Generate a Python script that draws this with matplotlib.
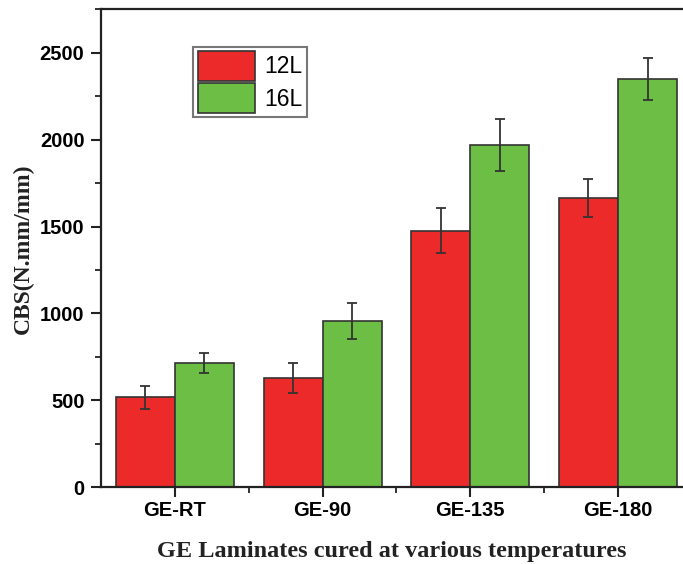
import matplotlib.pyplot as plt
import numpy as np
from matplotlib.ticker import MultipleLocator, FixedLocator

# CBS values (N.mm/mm) with standard deviation for each laminate
groups = ["GE-RT", "GE-90", "GE-135", "GE-180"]
cbs_12l = [517, 630, 1475, 1664]
err_12l = [65, 87, 129, 107]
cbs_16l = [716, 956, 1967, 2348]
err_16l = [57, 105, 150, 120]

red = "#ED2A2A"
green = "#6CBE45"
edge = "#333333"

fig = plt.figure(figsize=(6.83, 5.64), dpi=100)
ax = fig.add_axes([0.148, 0.136, 0.852, 0.8475])

x = np.arange(len(groups))
w = 0.4
err_kw = dict(ecolor=edge, elinewidth=1.3, capsize=3.5, capthick=1.3)
ax.bar(x - w / 2, cbs_12l, w, yerr=err_12l, color=red, edgecolor=edge,
       linewidth=1.2, label="12L", error_kw=err_kw)
ax.bar(x + w / 2, cbs_16l, w, yerr=err_16l, color=green, edgecolor=edge,
       linewidth=1.2, label="16L", error_kw=err_kw)

ax.set_xlim(-0.5, 3.44)
ax.set_ylim(0, 2750)

ax.set_xticks(x)
ax.set_xticklabels(groups)
ax.xaxis.set_minor_locator(FixedLocator(x[:-1] + 0.5))
ax.yaxis.set_major_locator(MultipleLocator(500))
ax.yaxis.set_minor_locator(MultipleLocator(250))

for lab in ax.get_xticklabels() + ax.get_yticklabels():
    lab.set_fontfamily("Liberation Sans")
    lab.set_fontweight("bold")
    lab.set_fontsize(14.5)

ax.tick_params(which="major", direction="out", length=7, width=1.5, color="#222222", pad=5)
ax.tick_params(which="minor", direction="out", length=4, width=1.3, color="#222222")
ax.tick_params(axis="x", pad=3)

for side in ["left", "bottom", "top"]:
    ax.spines[side].set_linewidth(1.6)
    ax.spines[side].set_color("#222222")
ax.spines["right"].set_visible(False)

ax.set_xlabel("GE Laminates cured at various temperatures", fontfamily="Liberation Serif",
              fontweight="bold", fontsize=17.5, labelpad=15, color="#222222")
ax.set_ylabel("CBS(N.mm/mm)", fontfamily="Liberation Serif", fontweight="bold",
              fontsize=17, labelpad=4, color="#222222")

leg = ax.legend(loc="upper left", bbox_to_anchor=(0.158, 0.922), frameon=True,
                fancybox=False, edgecolor="#555555", borderpad=0.2,
                handlelength=2.5, handleheight=1.6, handletextpad=0.4,
                labelspacing=0.12, borderaxespad=0,
                prop={"family": "Liberation Sans", "size": 16.5})
leg.get_frame().set_linewidth(1.5)

fig.savefig("out.png", dpi=100)
